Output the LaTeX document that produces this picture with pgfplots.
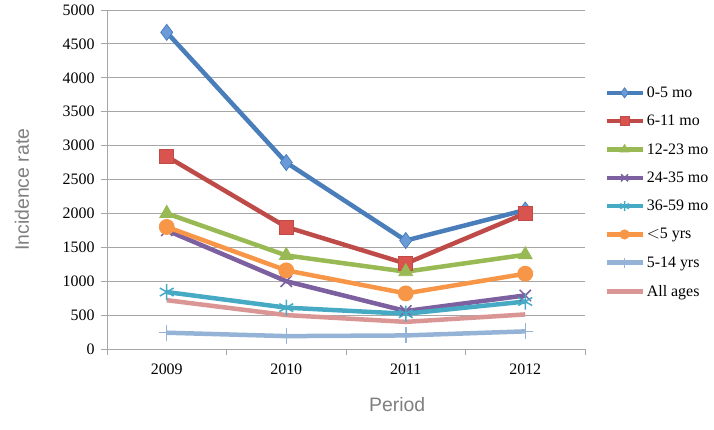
\documentclass[border=0pt]{standalone}
\usepackage{fontspec}
\setmainfont{Liberation Serif}
\newfontfamily\labfont{Liberation Sans}
\usepackage{pgfplots}
\pgfplotsset{compat=1.18}
\definecolor{cA}{HTML}{4A7EBB}
\definecolor{cAf}{HTML}{6A9BD8}
\definecolor{cB}{HTML}{BE4B48}
\definecolor{cBf}{HTML}{D9534F}
\definecolor{cC}{HTML}{98B954}
\definecolor{cD}{HTML}{7D60A0}
\definecolor{cE}{HTML}{46AAC5}
\definecolor{cF}{HTML}{F79646}
\definecolor{cG}{HTML}{95B3D7}
\definecolor{cH}{HTML}{D99694}
\definecolor{gridc}{HTML}{A6A6A6}
\definecolor{labc}{HTML}{7F7F7F}
\begin{document}
\begin{tikzpicture}
\begin{axis}[
  scale only axis,
  width=478bp, height=339bp,
  xmin=-0.5, xmax=3.5, ymin=0, ymax=5000,
  xtick={0,1,2,3},
  xticklabels={2009,2010,2011,2012},
  minor xtick={-0.5,0.5,1.5,2.5,3.5},
  ytick={0,500,...,5000},
  axis x line*=bottom, axis y line*=left,
  axis line style={draw=gridc, thick, -},
  ymajorgrids, grid style={draw=gridc, thick},
  major x tick style={draw=none},
  minor x tick style={draw=gridc, thick},
  y tick style={draw=gridc, thick},
  tick align=outside,
  major tick length=6bp, minor tick length=6bp,
  /pgf/number format/assume math mode=true,
  /pgf/number format/1000 sep={},
  tick label style={font=\fontsize{16}{19}\selectfont, text=black},
  yticklabel style={xshift=-3bp},
  xticklabel style={yshift=-5bp},
  xlabel={Period}, ylabel={Incidence rate},
  label style={font=\labfont\fontsize{19.5}{22}\selectfont, text=labc},
  xlabel style={at={(axis description cs:0.607,-0.165)}, anchor=center},
  ylabel style={at={(axis description cs:-0.178,0.47)}, anchor=center},
  legend style={at={(axis description cs:1.04,0.78)}, anchor=north west, draw=none, fill=none,
    font=\fontsize{16}{19}\selectfont, row sep=12.3bp, inner sep=0pt},
  legend cell align=left,
  legend image code/.code={\draw[mark repeat=2,mark phase=2,/tikz/every mark/.append style={scale=0.62}] plot coordinates {(0bp,0bp) (18bp,0bp) (36bp,0bp)};},
  every axis plot/.append style={line width=4.5bp},
  clip=false,
]
\addplot[cA, mark=diamond*, mark size=8bp, mark options={fill=cAf, draw=cA, line width=0.8bp}] coordinates {(0,4670) (1,2750) (2,1600) (3,2050)};
\addlegendentry{0-5 mo}
\addplot[cB, mark=square*, mark size=7bp, mark options={fill=cBf, draw=cB, line width=0.8bp}] coordinates {(0,2840) (1,1800) (2,1260) (3,2000)};
\addlegendentry{6-11 mo}
\addplot[cC, mark=triangle*, mark size=8bp, mark options={fill=cC, draw=cC, line width=0.8bp}] coordinates {(0,2000) (1,1380) (2,1140) (3,1390)};
\addlegendentry{12-23 mo}
\addplot[cD, mark=x, mark size=8bp, mark options={draw=cD, line width=1.5bp}] coordinates {(0,1750) (1,1000) (2,560) (3,790)};
\addlegendentry{24-35 mo}
\addplot[cE, mark=asterisk, mark size=8bp, mark options={draw=cE, line width=1.5bp}] coordinates {(0,840) (1,610) (2,520) (3,700)};
\addlegendentry{36-59 mo}
\addplot[cF, mark=*, mark size=7.5bp, mark options={fill=cF, draw=cF, line width=0.8bp}] coordinates {(0,1800) (1,1160) (2,820) (3,1110)};
\addlegendentry{$<$5 yrs}
\addplot[cG, mark=+, mark size=8bp, mark options={draw=cG, line width=1.5bp}] coordinates {(0,240) (1,190) (2,200) (3,260)};
\addlegendentry{5-14 yrs}
\addplot[cH, mark=none] coordinates {(0,720) (1,500) (2,400) (3,510)};
\addlegendentry{All ages}
\end{axis}
\path[use as bounding box] ([shift={(-107bp,-81bp)}]current axis.south west) rectangle ([shift={(129bp,10bp)}]current axis.north east);
\end{tikzpicture}
\end{document}
